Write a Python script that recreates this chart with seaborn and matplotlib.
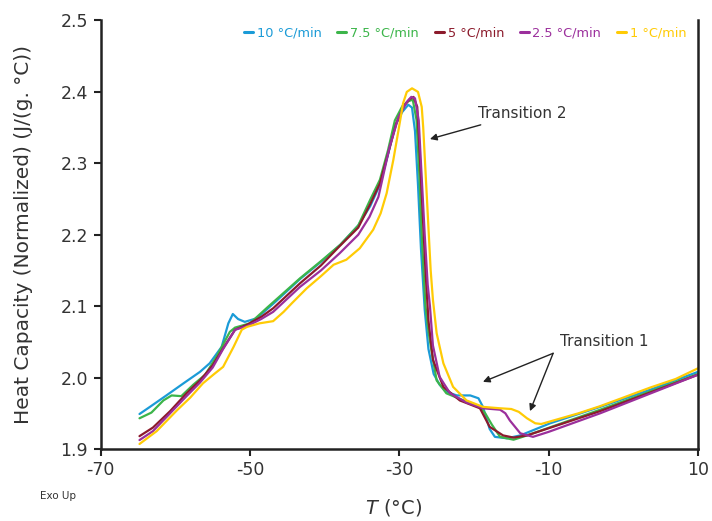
import numpy as np
import pandas as pd
import matplotlib
matplotlib.use("Agg")
import matplotlib.pyplot as plt
import seaborn as sns

rates = ["10 °C/min", "7.5 °C/min", "5 °C/min", "2.5 °C/min", "1 °C/min"]
colors = ["#1b9bd7", "#3cb54a", "#8c1b2c", "#9b2f9c", "#ffcb05"]

T_10 = [-64.8, -63.4, -61.2, -58.9, -56.7, -55.4, -53.8, -52.9, -52.3, -51.6, -50.7, -49.1, -46.5, -43.3, -40.5,
        -37.9, -35.5, -33.9, -32.6, -31.5, -30.6, -29.6, -28.8, -28.3, -27.9, -27.5, -27.1, -26.6, -26.1, -25.4,
        -24.6, -23.7, -22.3, -20.5, -19.4, -18.8, -17.9, -17.2, -15.6, -13.8, -9.8, -3.1, 3.6, 10.0]
C_10 = [1.949, 1.959, 1.975, 1.992, 2.008, 2.020, 2.043, 2.076, 2.089, 2.082, 2.078, 2.083, 2.107, 2.138, 2.162,
        2.186, 2.213, 2.240, 2.270, 2.313, 2.352, 2.372, 2.382, 2.378, 2.345, 2.270, 2.180, 2.095, 2.040, 2.005,
        1.990, 1.980, 1.975, 1.975, 1.971, 1.959, 1.928, 1.917, 1.915, 1.919, 1.936, 1.959, 1.983, 2.008]

T_75 = [-64.8, -63.2, -61.6, -60.5, -59.2, -57.6, -56.0, -54.5, -52.7, -52.0, -50.0, -47.7, -43.3, -40.5, -37.9,
        -35.5, -33.9, -32.6, -31.5, -30.6, -29.6, -28.8, -28.2, -27.7, -27.3, -27.0, -26.5, -26.1, -25.7, -25.0,
        -23.7, -21.4, -19.2, -18.5, -17.6, -16.5, -14.7, -12.9, -3.1, 10.0]
C_75 = [1.943, 1.951, 1.968, 1.975, 1.974, 1.990, 2.004, 2.029, 2.064, 2.070, 2.076, 2.098, 2.139, 2.163, 2.186,
        2.213, 2.249, 2.277, 2.319, 2.360, 2.380, 2.387, 2.389, 2.361, 2.280, 2.200, 2.100, 2.065, 2.038, 1.996,
        1.978, 1.968, 1.959, 1.950, 1.934, 1.917, 1.913, 1.919, 1.955, 2.005]

T_5 = [-64.8, -63.0, -60.7, -58.5, -56.7, -55.0, -53.6, -52.0, -50.4, -48.5, -46.9, -43.3, -40.5, -38.0, -35.5,
       -33.9, -32.6, -31.5, -30.4, -29.4, -28.6, -28.1, -27.6, -27.3, -27.0, -26.5, -26.1, -25.5, -24.1, -21.9,
       -19.2, -17.9, -16.1, -14.7, -12.9, -3.1, 10.0]
C_5 = [1.918, 1.930, 1.953, 1.978, 1.996, 2.017, 2.041, 2.067, 2.074, 2.085, 2.097, 2.132, 2.157, 2.184, 2.210,
       2.243, 2.272, 2.314, 2.356, 2.380, 2.390, 2.393, 2.379, 2.320, 2.258, 2.150, 2.080, 2.025, 1.987, 1.968,
       1.957, 1.931, 1.919, 1.916, 1.919, 1.953, 2.004]

T_25 = [-64.8, -63.0, -60.7, -58.5, -56.7, -55.0, -53.6, -52.0, -50.4, -48.5, -46.9, -43.3, -40.5, -38.0, -35.5,
        -34.0, -32.8, -31.3, -30.1, -29.0, -28.4, -27.9, -27.4, -27.0, -26.6, -26.2, -25.9, -25.5, -24.6, -23.2,
        -21.0, -18.8, -16.5, -15.8, -15.2, -13.8, -12.1, -10.0, -3.1, 10.0]
C_25 = [1.9125, 1.925, 1.950, 1.974, 1.993, 2.014, 2.040, 2.067, 2.072, 2.082, 2.092, 2.127, 2.150, 2.174, 2.200,
        2.225, 2.253, 2.323, 2.365, 2.386, 2.393, 2.391, 2.360, 2.280, 2.200, 2.130, 2.100, 2.045, 2.001, 1.978,
        1.965, 1.957, 1.955, 1.950, 1.940, 1.922, 1.917, 1.924, 1.950, 2.004]

T_1 = [-64.8, -62.5, -59.8, -58.0, -56.3, -54.8, -53.6, -52.2, -51.1, -50.4, -48.7, -46.9, -45.5, -44.4, -42.4,
       -40.5, -38.8, -37.1, -35.3, -33.5, -32.5, -31.7, -30.8, -30.1, -29.5, -29.0, -28.3, -27.5, -27.0, -26.8,
       -26.5, -26.2, -25.8, -25.5, -25.0, -24.1, -22.8, -21.0, -18.8, -16.5, -15.0, -14.0, -12.9, -11.8, -11.0,
       -9.0, -6.0, -3.1, 0.0, 3.6, 7.0, 10.0]
C_1 = [1.907, 1.925, 1.954, 1.972, 1.992, 2.005, 2.015, 2.043, 2.067, 2.071, 2.076, 2.079, 2.092, 2.104, 2.125,
       2.142, 2.158, 2.165, 2.181, 2.207, 2.230, 2.258, 2.305, 2.347, 2.384, 2.400, 2.405, 2.400, 2.379, 2.350,
       2.290, 2.230, 2.150, 2.109, 2.062, 2.020, 1.987, 1.968, 1.959, 1.957, 1.956, 1.952, 1.943, 1.936, 1.935,
       1.941, 1.950, 1.960, 1.972, 1.986, 1.998, 2.013]

x_ticks = [-70, -50, -30, -10, 10]
y_ticks = [1.9, 2.0, 2.1, 2.2, 2.3, 2.4, 2.5]

frames = []
for name, t, c in zip(rates, [T_10, T_75, T_5, T_25, T_1], [C_10, C_75, C_5, C_25, C_1]):
    frames.append(pd.DataFrame({"T": t, "Cp": c, "rate": name}))
df = pd.concat(frames, ignore_index=True)

sns.set_theme(style="white")
plt.rcParams["font.family"] = ["DejaVu Sans"]

fig = plt.figure(figsize=(7.12, 5.21), dpi=100)
ax = fig.add_axes([0.1414, 0.1382, 0.8389, 0.8225])

sns.lineplot(data=df, x="T", y="Cp", hue="rate", hue_order=rates, palette=colors,
             sort=False, estimator=None, linewidth=1.6, ax=ax, legend=False)

ax.set_xlim(-70, 10)
ax.set_ylim(1.9, 2.5)
ax.set_xticks(x_ticks)
ax.set_xticklabels([str(v) for v in x_ticks])
ax.set_yticks(y_ticks)
ax.set_yticklabels([f"{v:.1f}" for v in y_ticks])
ax.tick_params(axis="both", direction="out", length=5, width=1.5, colors="#222222",
               labelsize=12.5, labelcolor="#333333", bottom=True, left=True, pad=4)
for s in ["left", "bottom", "right"]:
    ax.spines[s].set_visible(True)
    ax.spines[s].set_color("#222222")
    ax.spines[s].set_linewidth(1.8)
ax.spines["top"].set_visible(False)

ax.set_ylabel("Heat Capacity (Normalized) (J/(g. °C))", fontsize=14.5, color="#333333")
ax.yaxis.set_label_coords(-0.113, 0.5)
ax.set_xlabel("")
fig.text(0.553, 0.025, r"$\it{T}$ (°C)", ha="center", va="center", fontsize=14, color="#333333")
fig.text(0.056, 0.048, "Exo Up", fontsize=7.5, color="#333333", ha="left", va="center")

handles = [plt.Line2D([0], [0], color=c, lw=2.2) for c in colors]
leg = ax.legend(handles, rates, ncol=5, loc="upper right", bbox_to_anchor=(1.0, 1.012), frameon=False,
                handlelength=0.7, handletextpad=0.3, columnspacing=1.2, fontsize=9.3, labelcolor=colors)

ax.annotate("Transition 2", xy=(-25.9, 2.334), xytext=(-19.5, 2.37), fontsize=11, color="#333333",
            va="center", ha="left",
            arrowprops=dict(arrowstyle="-|>", color="#222222", lw=1, mutation_scale=10, shrinkA=2, shrinkB=0))
ax.text(-8.5, 2.050, "Transition 1", fontsize=11, color="#333333", va="center", ha="left")
for hx, hy in [(-18.8, 1.994), (-12.5, 1.953)]:
    ax.annotate("", xy=(hx, hy), xytext=(-9.4, 2.034),
                arrowprops=dict(arrowstyle="-|>", color="#222222", lw=1, mutation_scale=10, shrinkA=0, shrinkB=0))

fig.savefig("out.png", dpi=100)
